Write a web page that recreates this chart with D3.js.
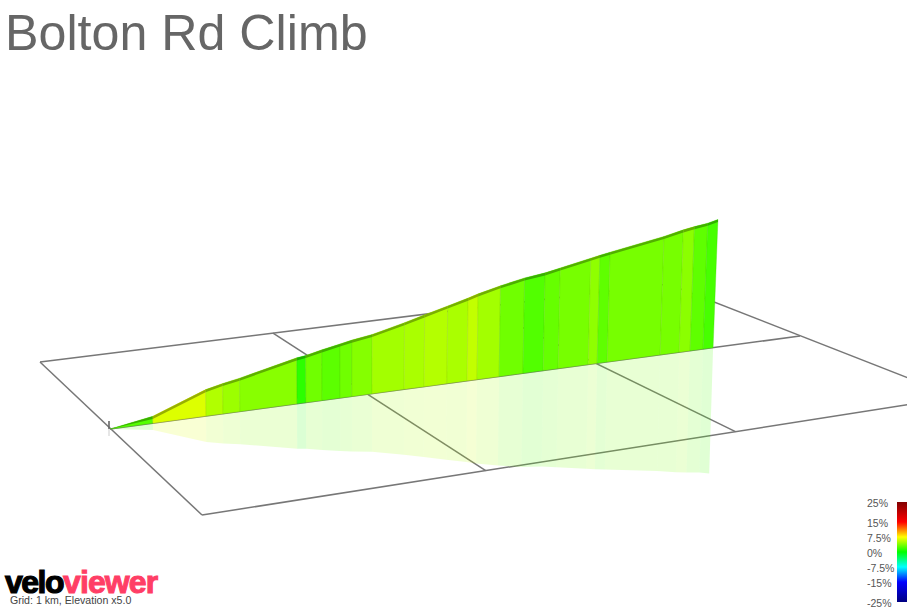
<!DOCTYPE html>
<html><head><meta charset="utf-8">
<script src="https://cdn.jsdelivr.net/npm/d3@7"></script>
<style>html,body{margin:0;padding:0;background:#fff;overflow:hidden}svg{display:block}text{font-family:"Liberation Sans",Arial,sans-serif}</style>
</head><body><svg id="c" width="907" height="607"></svg>
<script>
const titleText = "Bolton Rd Climb";
const footerText = "Grid: 1 km, Elevation x5.0";
const logoParts = ["velo", "viewer"];
const distanceKm = [0,.154,.350,.414,.478,.699,.734,.798,.870,.918,1.0,1.133,1.217,1.314,1.401,1.444,1.541,1.647,1.738,1.806,1.945,1.987,2.034,2.288,2.381,2.435,2.5,2.55];
const elevationM = [0,6,23,26.3,29,40,41,44,47,49,51.5,58,62.5,67.5,72,74.5,79,83,85,87.5,92.5,94,95.5,103,106.5,108,109.5,111.5];
const gradientPct = [2.5,6.5,5.2,4.6,4,1.3,3.3,2.7,3.3,3.9,4.8,5,5.3,5,5.7,4.8,3.3,2.4,3,3.5,4.2,2.8,3.5,3.5,4.1,2.8,2.1];
const gridU = [0,1,2,3];
const gridV = [0,1,2];
const legendValues = [25,15,7.5,0,-7.5,-15,-25];
const legendLabels = ["25%","15%","7.5%","0%","-7.5%","-15%","-25%"];
const legendColors = ["#800000","#ff0000","#ffff00","#00ff00","#00ffff","#0000ff","#000080"];

const svg = d3.select("#c");

// Ground plane: each grid row is a straight screen line with perspective foreshortening along km
const uMax = d3.max(gridU), vMax = d3.max(gridV);
function row(p0,p1,c){
  const at=(a,b,u)=>(a+(b*(1+c*uMax)-a)/uMax*u)/(1+c*u);
  return u=>[at(p0[0],p1[0],u),at(p0[1],p1[1],u)];
}
const rows = [row([40,362],[668,284],.06), row([110,429],[800,336],.0748), row([202,515],[957,397],.068)];
const ground = (u,v)=>rows[v](u);

const lift = d3.scaleLinear([0,150],[0,172.5]);
const lean = d3.scaleLinear([350,713],[0,5/132]);
const routeV = 1;
const pts = distanceKm.map((km,i)=>{
  const [bx,by]=ground(km,routeV);
  const h=lift(elevationM[i]);
  const l=lean(bx)*h;
  return {bx,by,tx:bx+l,ty:by-h,rx:bx-l*0.8,ry:by+h*0.98};
});
const colorScale = d3.scaleLinear().domain(legendValues).range(legendColors).interpolate(d3.interpolateRgb);
const segs = gradientPct.map((g,i)=>({a:pts[i],b:pts[i+1],g,color:colorScale(g)}));
const poly = a=>a.map(p=>p.join(",")).join(" ");

// grid
const line = svg.append("g").attr("stroke","#777").attr("stroke-width",1.5).attr("fill","none");
gridU.forEach(u=>{const [p,q]=[ground(u,0),ground(u,vMax)];line.append("line").attr("x1",p[0]).attr("y1",p[1]).attr("x2",q[0]).attr("y2",q[1]);});
gridV.forEach(v=>{const [p,q]=[ground(0,v),ground(uMax,v)];line.append("line").attr("x1",p[0]).attr("y1",p[1]).attr("x2",q[0]).attr("y2",q[1]);});

// start marker
const s0=pts[0], stub=lift(elevationM[1]);
svg.append("line").attr("x1",s0.bx-1).attr("x2",s0.bx-1).attr("y1",s0.by-stub-1).attr("y2",s0.by).attr("stroke","#666").attr("stroke-width",1.6);
svg.append("line").attr("x1",s0.bx-1).attr("x2",s0.bx-1).attr("y1",s0.by).attr("y2",s0.by+stub).attr("stroke","#666").attr("stroke-width",1.6).attr("opacity",.2);

// reflection
svg.append("g").selectAll("polygon").data(segs).join("polygon")
  .attr("points",d=>poly([[d.a.bx,d.a.by],[d.b.bx,d.b.by],[d.b.rx,d.b.ry],[d.a.rx,d.a.ry]]))
  .attr("fill",d=>d.color).attr("fill-opacity",.17);

// wall
svg.append("g").selectAll("polygon").data(segs).join("polygon")
  .attr("points",d=>poly([[d.a.bx,d.a.by],[d.b.bx,d.b.by],[d.b.tx,d.b.ty],[d.a.tx,d.a.ty]]))
  .attr("fill",d=>d.color)
  .attr("stroke",d=>d3.color(d.color).darker(.6)).attr("stroke-opacity",.3).attr("stroke-width",1);

// top surface ribbon
const band = 2.6;
svg.append("g").selectAll("polygon").data(segs).join("polygon")
  .attr("points",d=>poly([[d.a.tx,d.a.ty],[d.b.tx,d.b.ty],[d.b.tx,Math.min(d.b.ty+band,d.b.by)],[d.a.tx,Math.min(d.a.ty+band,d.a.by)]]))
  .attr("fill",d=>d3.color(d.color).darker(1.05));

// title
svg.append("text").attr("x",5).attr("y",50).attr("font-size",50.2).attr("fill","#666").text(titleText);

// legend
const legY = d3.scaleLinear([25,-25],[502,602]);
const defs = svg.append("defs");
const lg = defs.append("linearGradient").attr("id","leg").attr("x1",0).attr("x2",0).attr("y1",0).attr("y2",1);
legendValues.forEach((v,i)=>lg.append("stop").attr("offset",(legY(v)-legY(25))/(legY(-25)-legY(25))).attr("stop-color",legendColors[i]));
svg.append("rect").attr("x",897).attr("y",legY(25)).attr("width",10).attr("height",legY(-25)-legY(25)).attr("fill","url(#leg)");
svg.append("g").selectAll("text").data(legendValues).join("text")
  .attr("x",867).attr("y",d=>legY(d)+5).attr("font-size",10.5).attr("fill","#555")
  .text((d,i)=>legendLabels[i]);

// logo
const logo = svg.append("text").attr("x",5).attr("y",593).attr("font-size",32).attr("font-weight",700);
logo.append("tspan").attr("letter-spacing",-1.5).attr("fill","#000").attr("stroke","#000").attr("stroke-width",1.2).text(logoParts[0]);
logo.append("tspan").attr("letter-spacing",-.9).attr("fill","#ff3e66").attr("stroke","#ff3e66").attr("stroke-width",1).text(logoParts[1]);
svg.append("text").attr("x",10).attr("y",604).attr("font-size",10.6).attr("fill","#444").text(footerText);
</script></body></html>
